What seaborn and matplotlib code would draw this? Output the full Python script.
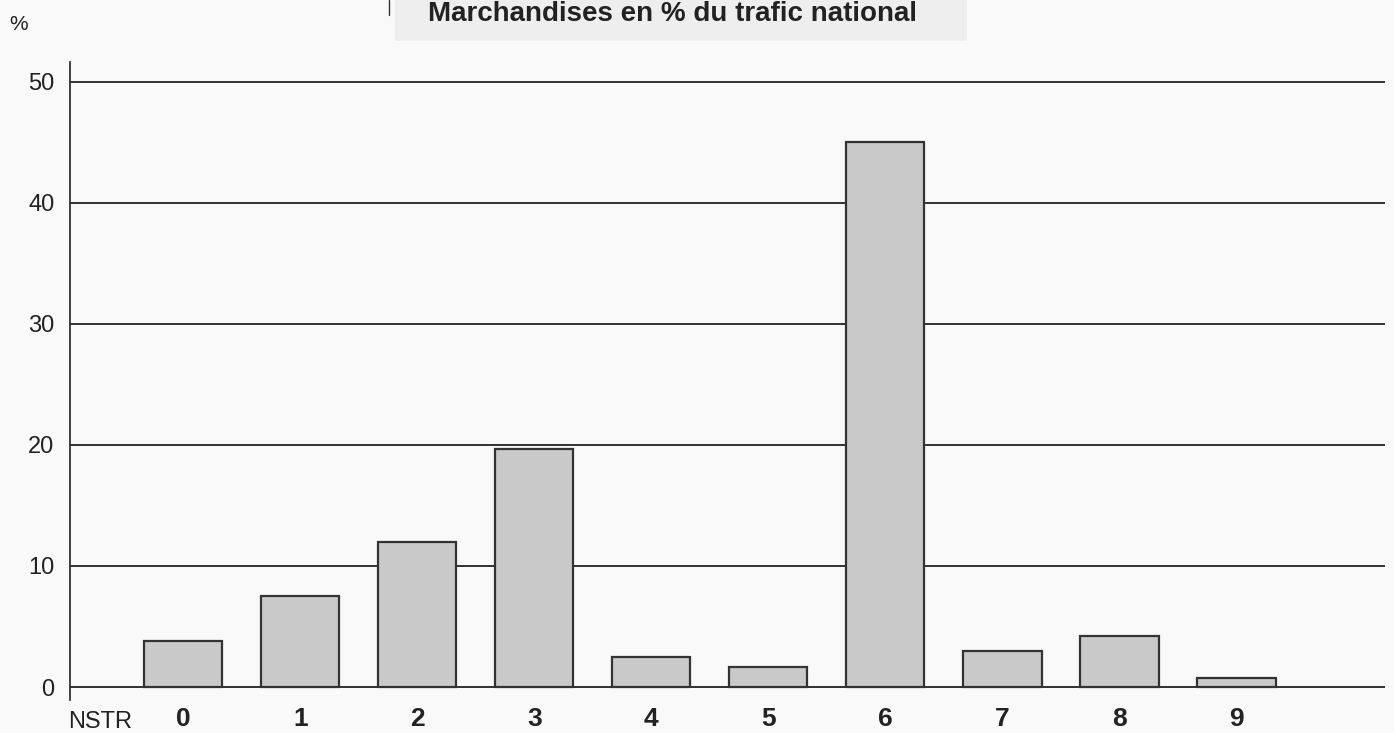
import matplotlib
matplotlib.use("Agg")
import matplotlib.pyplot as plt
import seaborn as sns
import pandas as pd

# données
categories = ["0", "1", "2", "3", "4", "5", "6", "7", "8", "9"]
valeurs = [3.8, 7.5, 12.0, 19.7, 2.5, 1.65, 45.0, 3.0, 4.2, 0.75]
yticks = [0, 10, 20, 30, 40, 50]
titre = "Marchandises en % du trafic national"

sns.set_style("white")
plt.rcParams["font.family"] = ["Liberation Sans", "DejaVu Sans"]

df = pd.DataFrame({"NST": categories, "pct": valeurs})

fig = plt.figure(figsize=(13.94, 7.33), dpi=100, facecolor="#f9f9f9")
ax = fig.add_axes([0.050, 0.045, 0.9435, 0.870])
ax.set_facecolor("#f9f9f9")

# lignes horizontales derrière les barres
for t in yticks:
    ax.axhline(t, color="#222222", lw=1.3, zorder=0)

sns.barplot(data=df, x="NST", y="pct", order=categories, color="#c9c9c9",
            saturation=1, width=0.67, edgecolor="#333333", linewidth=1.6,
            ax=ax, zorder=2)

ax.set_xlim(-0.97, 10.27)
ax.set_ylim(-1.07, 51.6)
ax.set_yticks(yticks)
ax.set_yticklabels([str(t) for t in yticks], fontsize=17, color="#222222")
ax.tick_params(axis="y", length=8, width=1.2, color="#222222", pad=3)
ax.set_xticks(range(len(categories)))
ax.set_xticklabels(categories, fontsize=19, fontweight="bold", color="#222222")
ax.tick_params(axis="x", length=0, pad=5)
ax.set_xlabel("")
ax.set_ylabel("")

for s in ["top", "right", "bottom"]:
    ax.spines[s].set_visible(False)
ax.spines["left"].set_color("#222222")
ax.spines["left"].set_linewidth(1.2)

ax.text(-0.98, -2.0, "NSTR", fontsize=17, color="#222222",
        ha="left", va="top")

# titre en haut, avec son encadré gris
fig.patches.append(plt.Rectangle((395 / 1394, 1 - 41 / 733), 572 / 1394, 41 / 733,
                                 transform=fig.transFigure, facecolor="#eeeeee",
                                 edgecolor="none", zorder=0))
fig.text(673 / 1394, 1 - 21 / 733, titre, fontsize=20, fontweight="bold",
         ha="center", va="baseline", color="#222222")
fig.lines.append(plt.Line2D([389 / 1394, 389 / 1394], [1 - 15 / 733, 1.0],
                            transform=fig.transFigure, color="#333333", lw=1))
fig.text(9 / 1394, 1 - 25 / 733, "%", fontsize=15, ha="left", va="center",
         color="#222222")

fig.savefig("out.png", dpi=100, facecolor=fig.get_facecolor())
